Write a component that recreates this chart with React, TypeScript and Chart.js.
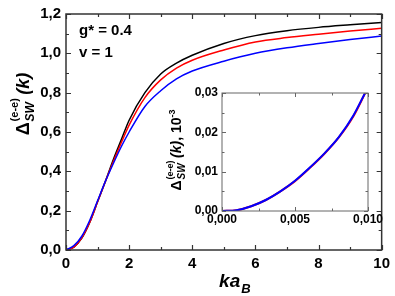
import React, { useEffect, useRef } from 'react';
import { Chart, registerables } from 'chart.js';

Chart.register(...registerables);

const FONT = '"Liberation Sans", Arial, sans-serif';

// ---- main panel data ----
const kaB = [0, 0.25, 0.5, 0.75, 1, 1.25, 1.5, 1.75, 2, 2.5, 3, 3.5, 4, 5, 6, 7, 8, 9, 10];
const deltaBlack = [0, 0.015, 0.06, 0.14, 0.245, 0.35, 0.46, 0.56, 0.66, 0.8, 0.895, 0.95, 0.99, 1.05, 1.09, 1.115, 1.132, 1.145, 1.157];
const deltaRed = [0, 0.015, 0.062, 0.14, 0.245, 0.35, 0.45, 0.545, 0.635, 0.775, 0.865, 0.925, 0.965, 1.017, 1.058, 1.08, 1.097, 1.113, 1.127];
const deltaBlue = [0, 0.022, 0.07, 0.15, 0.25, 0.35, 0.44, 0.525, 0.6, 0.73, 0.81, 0.87, 0.91, 0.96, 1.0, 1.028, 1.05, 1.07, 1.088];
const xMajorMain = [0, 2, 4, 6, 8, 10];
const xMinorMain = [1, 3, 5, 7, 9];
const yMajorMain = [0, 0.2, 0.4, 0.6, 0.8, 1.0, 1.2];
const yMinorMain = [0.1, 0.3, 0.5, 0.7, 0.9, 1.1];

// ---- inset data ----
const kaBInset = [0, 0.001, 0.002, 0.003, 0.004, 0.005, 0.006, 0.007, 0.008, 0.009, 0.0098];
const deltaInsetRed = [0, 0.0002, 0.0012, 0.0028, 0.005, 0.0076, 0.0109, 0.0145, 0.0187, 0.0241, 0.0299];
const deltaInsetBlue = [0, 0.0002, 0.0012, 0.0028, 0.005, 0.0077, 0.011, 0.0146, 0.0188, 0.0243, 0.03];
const xMajorInset = [0, 0.005, 0.01];
const xMinorInset = [0.0025, 0.0075];
const yMajorInset = [0, 0.01, 0.02, 0.03];
const yMinorInset = [0.005, 0.015, 0.025];

const toPts = (xs: number[], ys: number[]) => xs.map((x, i) => ({ x, y: ys[i] }));
const comma = (v: number, d: number) => v.toFixed(d).replace('.', ',');

function framePlugin(id: string, o: any) {
  return {
    id,
    afterDatasetsDraw(chart: any) {
      const { ctx, chartArea: a, scales } = chart;
      const xs = scales.x, ys = scales.y;
      ctx.save();
      ctx.strokeStyle = o.color;
      ctx.lineWidth = o.width;
      ctx.beginPath();
      const tx = (vals: number[], len: number) => {
        vals.forEach((v) => {
          const p = Math.round(xs.getPixelForValue(v)) + 0.5;
          ctx.moveTo(p, a.bottom); ctx.lineTo(p, a.bottom - len);
          ctx.moveTo(p, a.top); ctx.lineTo(p, a.top + len);
        });
      };
      const ty = (vals: number[], len: number) => {
        vals.forEach((v) => {
          const p = Math.round(ys.getPixelForValue(v)) + 0.5;
          ctx.moveTo(a.left, p); ctx.lineTo(a.left + len, p);
          ctx.moveTo(a.right, p); ctx.lineTo(a.right - len, p);
        });
      };
      tx(o.xMajor, o.majorLen); tx(o.xMinor, o.minorLen);
      ty(o.yMajor, o.majorLen); ty(o.yMinor, o.minorLen);
      ctx.stroke();
      ctx.lineWidth = o.frameWidth;
      ctx.strokeRect(a.left, a.top, a.right - a.left, a.bottom - a.top);
      ctx.restore();
    },
  };
}

// draws "Δ_SW^(e-e)" + suffix horizontally, centered at (0,0) baseline in current transform
function drawDelta(ctx: CanvasRenderingContext2D, size: number, suffix: string, suffix2?: string, suffixSup?: string) {
  const fMain = `bold ${size}px ${FONT}`;
  const fIt = `italic bold ${size}px ${FONT}`;
  const fSub = `italic bold ${Math.round(size * 0.68)}px ${FONT}`;
  const fSup = `bold ${Math.round(size * 0.62)}px ${FONT}`;
  ctx.font = fMain; const wD = ctx.measureText('Δ').width;
  ctx.font = fSub; const wSub = ctx.measureText('SW').width;
  ctx.font = fSup; const wSup = ctx.measureText('(e-e)').width;
  const wg = Math.max(wSub, wSup) + size * 0.25;
  ctx.font = fIt; const wS = ctx.measureText(suffix).width;
  let wS2 = 0, wS3 = 0;
  if (suffix2) { ctx.font = fMain; wS2 = ctx.measureText(suffix2).width; }
  if (suffixSup) { ctx.font = fSup; wS3 = ctx.measureText(suffixSup).width; }
  const total = wD + wg + wS + wS2 + wS3;
  let x = -total / 2;
  ctx.textAlign = 'left';
  ctx.textBaseline = 'alphabetic';
  ctx.font = fMain; ctx.fillText('Δ', x, 0); x += wD + 1;
  ctx.font = fSub; ctx.fillText('SW', x, size * 0.3);
  ctx.font = fSup; ctx.fillText('(e-e)', x, -size * 0.6);
  x += wg - 1;
  ctx.font = fIt; ctx.fillText(suffix, x, 0); x += wS;
  if (suffix2) { ctx.font = fMain; ctx.fillText(suffix2, x, 0); x += wS2; }
  if (suffixSup) { ctx.font = fSup; ctx.fillText(suffixSup, x, -size * 0.45); }
}

function drawKaB(ctx: CanvasRenderingContext2D, cx: number, by: number, size: number) {
  const f = `italic bold ${size}px ${FONT}`;
  const fs = `italic bold ${Math.round(size * 0.68)}px ${FONT}`;
  ctx.font = f; const w1 = ctx.measureText('ka').width;
  ctx.font = fs; const w2 = ctx.measureText('B').width;
  let x = cx - (w1 + w2 + 1) / 2;
  ctx.textAlign = 'left';
  ctx.textBaseline = 'alphabetic';
  ctx.font = f; ctx.fillText('ka', x, by);
  ctx.font = fs; ctx.fillText('B', x + w1 + 1, by + size * 0.32);
}

const mainText = {
  id: 'mainText',
  afterDraw(chart: any) {
    const { ctx, chartArea: a } = chart;
    ctx.save();
    ctx.fillStyle = '#000';
    ctx.save();
    ctx.translate(29, (a.top + a.bottom) / 2 - 28);
    ctx.rotate(-Math.PI / 2);
    drawDelta(ctx, 18, '(k)');
    ctx.restore();
    drawKaB(ctx, a.left + (a.right - a.left) * 0.535, 287, 19);
    ctx.font = `bold 15px ${FONT}`;
    ctx.textAlign = 'left';
    ctx.textBaseline = 'alphabetic';
    ctx.fillText('g* = 0.4', a.left + 13, a.top + 21);
    ctx.fillText('v = 1', a.left + 13, a.top + 43);
    ctx.restore();
  },
};

const insetText = {
  id: 'insetText',
  afterDraw(chart: any) {
    const { ctx, chartArea: a } = chart;
    ctx.save();
    ctx.fillStyle = '#000';
    ctx.save();
    ctx.translate(31, (a.top + a.bottom) / 2 - 2);
    ctx.rotate(-Math.PI / 2);
    drawDelta(ctx, 14, '(k)', ', 10', '-3');
    ctx.restore();
    drawKaB(ctx, a.left + (a.right - a.left) * 0.53, 238, 15);
    ctx.restore();
  },
};

function MainChart() {
  const ref = useRef<HTMLCanvasElement | null>(null);
  useEffect(() => {
    const c = new Chart(ref.current as HTMLCanvasElement, {
      type: 'line',
      data: {
        datasets: [
          { data: toPts(kaB, deltaBlack), borderColor: '#000000', order: 2 },
          { data: toPts(kaB, deltaRed), borderColor: '#ff0000', order: 1 },
          { data: toPts(kaB, deltaBlue), borderColor: '#0000ff', order: 0 },
        ].map((d) => ({ ...d, borderWidth: 1.5, pointRadius: 0, cubicInterpolationMode: 'monotone' as const, fill: false })),
      },
      options: {
        animation: false,
        responsive: false,
        devicePixelRatio: 1,
        layout: { padding: { left: 0, top: 10, right: 12, bottom: 0 } },
        plugins: { legend: { display: false }, tooltip: { enabled: false } },
        scales: {
          x: {
            type: 'linear', min: 0, max: 10,
            grid: { display: false, drawTicks: false }, border: { display: false },
            afterBuildTicks: (s: any) => { s.ticks = xMajorMain.map((v) => ({ value: v })); },
            afterFit: (s: any) => { s.height = 46; },
            ticks: { padding: 5, color: '#000', font: { family: FONT, size: 15, weight: 'bold' }, maxRotation: 0, callback: (v: any) => String(v) },
          },
          y: {
            type: 'linear', min: 0, max: 1.2,
            grid: { display: false, drawTicks: false }, border: { display: false },
            afterBuildTicks: (s: any) => { s.ticks = yMajorMain.map((v) => ({ value: v })); },
            afterFit: (s: any) => { s.width = 66; },
            ticks: { padding: 5, color: '#000', font: { family: FONT, size: 15, weight: 'bold' }, callback: (v: any) => comma(Number(v), 1) },
          },
        },
      } as any,
      plugins: [
        framePlugin('mainFrame', { color: '#333', width: 1.2, frameWidth: 1.5, majorLen: 5, minorLen: 3, xMajor: xMajorMain, xMinor: xMinorMain, yMajor: yMajorMain, yMinor: yMinorMain }),
        mainText,
      ],
    });
    return () => c.destroy();
  }, []);
  return <canvas ref={ref} width={395} height={296} style={{ position: 'absolute', left: 0, top: 0, width: 395, height: 296 }} />;
}

function InsetChart() {
  const ref = useRef<HTMLCanvasElement | null>(null);
  useEffect(() => {
    const c = new Chart(ref.current as HTMLCanvasElement, {
      type: 'line',
      data: {
        datasets: [
          { data: toPts(kaBInset, deltaInsetRed), borderColor: '#ff0000', order: 1 },
          { data: toPts(kaBInset, deltaInsetBlue), borderColor: '#0000ff', order: 0 },
        ].map((d) => ({ ...d, borderWidth: 2, pointRadius: 0, cubicInterpolationMode: 'monotone' as const, fill: false })),
      },
      options: {
        animation: false,
        responsive: false,
        devicePixelRatio: 1,
        layout: { padding: { left: 0, top: 13, right: 27, bottom: 0 } },
        plugins: { legend: { display: false }, tooltip: { enabled: false } },
        scales: {
          x: {
            type: 'linear', min: 0, max: 0.01,
            grid: { display: false, drawTicks: false }, border: { display: false },
            afterBuildTicks: (s: any) => { s.ticks = xMajorInset.map((v) => ({ value: v })); },
            afterFit: (s: any) => { s.height = 39; },
            ticks: { padding: 1, color: '#000', font: { family: FONT, size: 12, weight: 'bold' }, maxRotation: 0, callback: (v: any) => comma(Number(v), 3) },
          },
          y: {
            type: 'linear', min: 0, max: 0.03,
            grid: { display: false, drawTicks: false }, border: { display: false },
            afterBuildTicks: (s: any) => { s.ticks = yMajorInset.map((v) => ({ value: v })); },
            afterFit: (s: any) => { s.width = 72; },
            ticks: { padding: 4, color: '#000', font: { family: FONT, size: 12, weight: 'bold' }, callback: (v: any) => comma(Number(v), 2) },
          },
        },
      } as any,
      plugins: [
        framePlugin('insetFrame', { color: '#666', width: 1, frameWidth: 1, majorLen: 4, minorLen: 2.5, xMajor: xMajorInset, xMinor: xMinorInset, yMajor: yMajorInset, yMinor: yMinorInset }),
        insetText,
      ],
    });
    return () => c.destroy();
  }, []);
  return <canvas ref={ref} width={245} height={170} style={{ position: 'absolute', left: 150, top: 80, width: 245, height: 170 }} />;
}

export default function App() {
  return (
    <div style={{ position: 'fixed', left: 0, top: 0, width: 395, height: 296, background: '#fff' }}>
      <MainChart />
      <InsetChart />
    </div>
  );
}
